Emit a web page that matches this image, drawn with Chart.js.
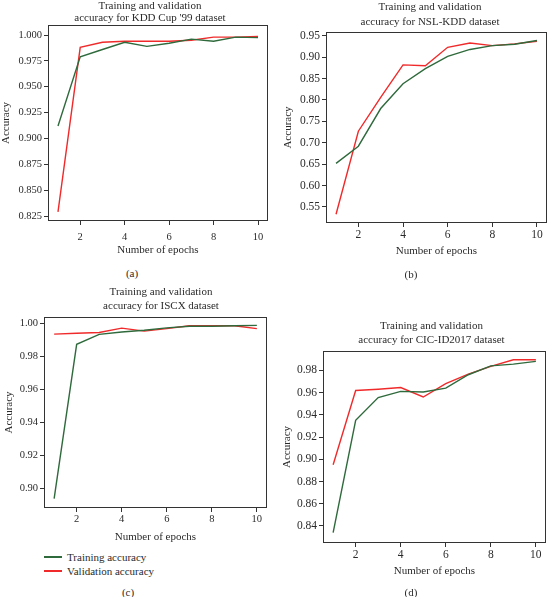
<!DOCTYPE html>
<html>
<head>
<meta charset="utf-8">
<script src="https://cdn.jsdelivr.net/npm/chart.js@4.4.1/dist/chart.umd.min.js"></script>
<style>
  html, body { margin: 0; padding: 0; background: #fff; }
  body { width: 548px; height: 597px; position: relative; overflow: hidden; font-family: "Liberation Serif", "DejaVu Serif", serif; color: #2b2b2b; }
  .panel { position: absolute; }
  .cap { position: absolute; font-size: 11px; transform: translate(-50%, -50%); white-space: nowrap; }
  .legend { position: absolute; left: 44px; top: 550px; font-size: 11px; line-height: 14px; }
  .legend .row { display: flex; align-items: center; white-space: nowrap; height: 14px; }
  .legend .sw { width: 18px; height: 1.5px; margin-right: 5px; }
</style>
</head>
<body>
<div class="panel" style="left:0px;top:0px;width:300px;height:257px"><canvas id="ca"></canvas></div>
<div class="panel" style="left:274px;top:0px;width:312px;height:258px"><canvas id="cb"></canvas></div>
<div class="panel" style="left:0px;top:285px;width:322px;height:259px"><canvas id="cc"></canvas></div>
<div class="panel" style="left:274px;top:319px;width:315px;height:259px"><canvas id="cd"></canvas></div>
<div class="cap" style="left:132px;top:273px">(a)</div>
<div class="cap" style="left:411px;top:274px">(b)</div>
<div class="cap" style="left:128px;top:592px">(c)</div>
<div class="cap" style="left:411px;top:592px">(d)</div>
<div class="legend" id="legend"></div>
<script>
// ---------- data ----------
const epochs = [1, 2, 3, 4, 5, 6, 7, 8, 9, 10];
const xTicks = [2, 4, 6, 8, 10];
const seriesLabels = ["Training accuracy", "Validation accuracy"];

const kddTrain = [0.912, 0.979, 0.986, 0.993, 0.989, 0.992, 0.996, 0.994, 0.998, 0.9975];
const kddVal   = [0.829, 0.988, 0.993, 0.994, 0.994, 0.994, 0.995, 0.998, 0.998, 0.9985];
const kddTicks = [0.825, 0.850, 0.875, 0.900, 0.925, 0.950, 0.975, 1.000];

const nslTrain = [0.652, 0.692, 0.780, 0.838, 0.873, 0.902, 0.918, 0.927, 0.930, 0.939];
const nslVal   = [0.533, 0.727, 0.806, 0.882, 0.880, 0.923, 0.933, 0.927, 0.931, 0.937];
const nslTicks = [0.55, 0.60, 0.65, 0.70, 0.75, 0.80, 0.85, 0.90, 0.95];

const iscxTrain = [0.894, 0.9875, 0.9935, 0.995, 0.996, 0.9975, 0.9985, 0.9985, 0.9988, 0.999];
const iscxVal   = [0.9937, 0.9942, 0.9947, 0.9973, 0.9955, 0.997, 0.9988, 0.9988, 0.9988, 0.997];
const iscxTicks = [0.90, 0.92, 0.94, 0.96, 0.98, 1.00];

const cicTrain = [0.834, 0.935, 0.9555, 0.961, 0.9605, 0.964, 0.976, 0.984, 0.9855, 0.988];
const cicVal   = [0.895, 0.9618, 0.963, 0.9645, 0.956, 0.968, 0.9765, 0.9835, 0.9895, 0.9895];
const cicTicks = [0.84, 0.86, 0.88, 0.90, 0.92, 0.94, 0.96, 0.98];

// ---------- styling ----------
const GREEN = "#2f6a3c";
const RED = "#f02a2a";
const TEXT = "#2b2b2b";
const AXIS = "#333333";
const SERIF = "'Liberation Serif', 'DejaVu Serif', serif";

const boxPlugin = {
  id: "box",
  afterDraw(chart) {
    const a = chart.chartArea, ctx = chart.ctx;
    ctx.save();
    ctx.strokeStyle = AXIS;
    ctx.lineWidth = 1;
    ctx.strokeRect(Math.round(a.left) + 0.5, Math.round(a.top) + 0.5,
                   Math.round(a.right - a.left) - 1, Math.round(a.bottom - a.top) - 1);
    ctx.restore();
  }
};

function makeChart(id, cfg) {
  const pts = arr => epochs.map((e, i) => ({ x: e, y: arr[i] }));
  return new Chart(document.getElementById(id), {
    type: "line",
    data: {
      datasets: [
        { label: seriesLabels[0], data: pts(cfg.train), borderColor: GREEN, backgroundColor: GREEN,
          borderWidth: 1.4, pointRadius: 0, tension: 0, fill: false },
        { label: seriesLabels[1], data: pts(cfg.val), borderColor: RED, backgroundColor: RED,
          borderWidth: 1.4, pointRadius: 0, tension: 0, fill: false }
      ]
    },
    options: {
      responsive: true,
      maintainAspectRatio: false,
      animation: false,
      events: [],
      layout: { padding: 0 },
      plugins: {
        legend: { display: false },
        tooltip: { enabled: false },
        title: {
          display: true,
          text: cfg.title,
          color: TEXT,
          font: { family: SERIF, size: 11, weight: "normal", lineHeight: cfg.titleLH },
          padding: { top: 0, bottom: cfg.titlePadBottom }
        }
      },
      scales: {
        x: {
          type: "linear",
          min: 0.55, max: 10.45,
          afterBuildTicks: s => { s.ticks = xTicks.map(v => ({ value: v })); },
          afterFit: s => { s.height = cfg.xHeight; },
          grid: { drawOnChartArea: false, drawTicks: true, tickLength: 4, color: AXIS, tickColor: AXIS },
          border: { display: false },
          ticks: { color: TEXT, padding: cfg.xTickPad, maxRotation: 0,
                   font: { family: SERIF, size: cfg.tickSize } },
          title: { display: true, text: "Number of epochs", color: TEXT, padding: 0,
                   font: { family: SERIF, size: 11 } }
        },
        y: {
          type: "linear",
          min: cfg.yMin, max: cfg.yMax,
          afterBuildTicks: s => { s.ticks = cfg.yTicks.map(v => ({ value: v })); },
          afterFit: s => { s.width = cfg.yWidth; },
          grid: { drawOnChartArea: false, drawTicks: true, tickLength: 4, color: AXIS, tickColor: AXIS },
          border: { display: false },
          ticks: { color: TEXT, padding: 2,
                   font: { family: SERIF, size: cfg.tickSize },
                   callback: v => Number(v).toFixed(cfg.dec) },
          title: { display: true, text: "Accuracy", color: TEXT, padding: { top: cfg.yTitlePad, bottom: 0 },
                   font: { family: SERIF, size: 11 } }
        },
        // empty spacer on the right so the title is centred like the original
        spacer: {
          type: "linear",
          position: "right",
          display: true,
          grid: { display: false },
          border: { display: false },
          ticks: { display: false },
          afterFit: s => { s.width = cfg.rightSpace; }
        }
      }
    },
    plugins: [boxPlugin]
  });
}

makeChart("ca", {
  title: ["Training and validation", "accuracy for KDD Cup '99 dataset"],
  train: kddTrain, val: kddVal, yTicks: kddTicks, dec: 3,
  yMin: 0.8202, yMax: 1.0097,
  rightSpace: 32, yWidth: 48, xHeight: 36,
  titleLH: 1.09, titlePadBottom: 1,
  tickSize: 10.5, xTickPad: 6, yTitlePad: 0
});

makeChart("cb", {
  title: ["Training and validation", "accuracy for NSL-KDD dataset"],
  train: nslTrain, val: nslVal, yTicks: nslTicks, dec: 2,
  yMin: 0.5126, yMax: 0.9587,
  rightSpace: 39, yWidth: 52, xHeight: 35,
  titleLH: 1.31, titlePadBottom: 3.2,
  tickSize: 11.5, xTickPad: 1, yTitlePad: 8
});

makeChart("cc", {
  title: ["Training and validation", "accuracy for ISCX dataset"],
  train: iscxTrain, val: iscxVal, yTicks: iscxTicks, dec: 2,
  yMin: 0.8883, yMax: 1.0041,
  rightSpace: 55, yWidth: 44, xHeight: 36,
  titleLH: 1.27, titlePadBottom: 4,
  tickSize: 10.5, xTickPad: 1, yTitlePad: 2.5
});

makeChart("cd", {
  title: ["Training and validation", "accuracy for CIC-ID2017 dataset"],
  train: cicTrain, val: cicVal, yTicks: cicTicks, dec: 2,
  yMin: 0.8247, yMax: 0.9974,
  rightSpace: 43, yWidth: 49, xHeight: 35,
  titleLH: 1.27, titlePadBottom: 4,
  tickSize: 11.5, xTickPad: 1, yTitlePad: 6.5
});

// legend for panel (c), built from the series labels and colours
const lg = document.getElementById("legend");
[[seriesLabels[0], GREEN], [seriesLabels[1], RED]].forEach(([t, c]) => {
  const row = document.createElement("div");
  row.className = "row";
  const sw = document.createElement("div");
  sw.className = "sw";
  sw.style.backgroundColor = c;
  row.appendChild(sw);
  row.appendChild(document.createTextNode(t));
  lg.appendChild(row);
});
</script>
</body>
</html>
